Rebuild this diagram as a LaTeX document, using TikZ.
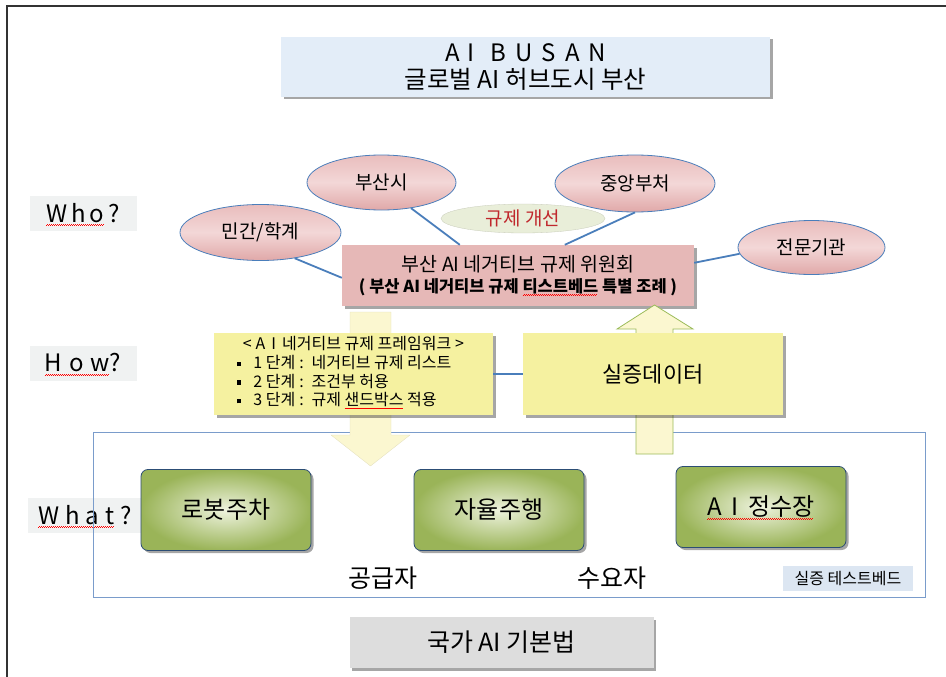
\documentclass[tikz,border=0pt]{standalone}
\usepackage{fontspec}
\setmainfont{Noto Sans CJK KR}
\usetikzlibrary{shapes.geometric,shadows,calc}
\definecolor{titleBlue}{HTML}{E3EDF8}
\definecolor{labelGray}{HTML}{F0F2F2}
\definecolor{pinkTop}{HTML}{E9BDBD}
\definecolor{pinkMid}{HTML}{F3D7D7}
\definecolor{pinkBot}{HTML}{E0A8A8}
\definecolor{comPink}{HTML}{E6B8B7}
\definecolor{yel}{HTML}{F5F1A0}
\definecolor{arrowY}{HTML}{FBF7D0}
\definecolor{arrowEdge}{HTML}{9BBB59}
\definecolor{greenOuter}{HTML}{9AB458}
\definecolor{greenInner}{HTML}{EEF3DE}
\definecolor{greenBorder}{HTML}{2C4D75}
\definecolor{tbBlue}{HTML}{DCE6F2}
\definecolor{lawGray}{HTML}{DDDDDD}
\definecolor{lineBlue}{HTML}{4A7EBB}
\definecolor{frameBlue}{HTML}{7A9CCB}
\definecolor{improve}{HTML}{E9EED9}
\definecolor{redtxt}{HTML}{C0282D}
\definecolor{frameGray}{HTML}{333333}
\newsavebox\wavetmp
\newcommand\redwave[1]{\sbox\wavetmp{#1}\leavevmode\rlap{\raisebox{-3pt}[0pt][0pt]{\color{red}\leaders\hbox{\rule{1pt}{0.45pt}\rule[0.7pt]{1pt}{0.45pt}}\hskip\wd\wavetmp}}\usebox\wavetmp}
\newcommand\sqbul{\rule[2.5pt]{4.5pt}{4.5pt}}
\newcommand\gp[1]{\hspace{#1pt}}
\begin{document}
\begin{tikzpicture}[x=1pt,y=-1pt,
  shad/.style={drop shadow={shadow xshift=2.5pt,shadow yshift=-2.5pt,fill=black,opacity=0.35}},
  lbl/.style={fill=labelGray,minimum width=107pt,minimum height=35pt,inner sep=0pt,font=\fontsize{24}{28}\selectfont},
  oval/.style={ellipse,draw=lineBlue,line width=0.8pt,top color=pinkTop,bottom color=pinkBot,middle color=pinkMid,inner sep=0pt,font=\fontsize{19}{22}\selectfont},
  ybox/.style={fill=yel,shad,inner sep=0pt},
  gbox/.style={rounded corners=7pt,draw=greenBorder,line width=0.8pt,inner color=greenInner,outer color=greenOuter,shad,minimum width=170pt,minimum height=81pt,inner sep=0pt,font=\fontsize{24}{28}\selectfont},
  conn/.style={draw=lineBlue,line width=1.8pt},
  big/.style={font=\fontsize{25}{28}\selectfont}
]
\useasboundingbox (0,0) rectangle (946,677);
% outer frame
\draw[frameGray,line width=2pt] (7,677) -- (7,6) -- (946,6);

% title
\node[fill=titleBlue,shad,minimum width=489pt,minimum height=60pt,inner sep=0pt,align=center] (title) at (525.5,67)
  {{\fontsize{24}{26}\selectfont A\gp{8}I\gp{16}B\gp{9}U\gp{9}S\gp{9}A\gp{9}N}\\[5pt]
   {\fontsize{24.5}{26}\selectfont 글로벌 AI 허브도시 부산}};

% side labels
\node[lbl] (who) at (83,213) {\redwave{W\gp{4}h\gp{4}o}\gp{4}?};
\node[lbl] (how) at (83,363) {\redwave{H\gp{7}o\gp{7}w}?};
\node[lbl,minimum width=115pt] (what) at (85,515) {\redwave{W\gp{6}h\gp{6}a\gp{6}t}\gp{6}?};

% testbed frame
\node[draw=frameBlue,line width=1pt,minimum width=832pt,minimum height=165pt,inner sep=0pt] (tb) at (509,514.5) {};

% ellipses
\node[oval,minimum width=149pt,minimum height=55pt] (bs) at (381.5,182.5) {부산시};
\node[oval,minimum width=160pt,minimum height=57pt] (jc) at (635,183.5) {중앙부처};
\node[oval,minimum width=161pt,minimum height=56pt] (mk) at (260.5,232.5) {민간/학계};
\node[oval,minimum width=147pt,minimum height=54pt] (jm) at (811.5,247.5) {전문기관};
\node[ellipse,fill=improve,draw=improve!85!black,line width=0.3pt,minimum width=164pt,minimum height=29pt,inner sep=0pt,text=redtxt,font=\fontsize{19}{22}\selectfont] (gj) at (523,218.5) {규제 개선};

% committee
\node[fill=comPink,shad,minimum width=352pt,minimum height=61pt,inner sep=0pt,align=center] (com) at (518,275.5)
  {{\fontsize{19.5}{22}\selectfont 부산 AI 네거티브 규제 위원회}\\[5pt]
   {\fontsize{16.5}{18}\selectfont\bfseries ( 부산 AI 네거티브 규제 \redwave{티스트베드} 특별 조례 )}};

% connectors ellipse -> committee
\draw[conn] (bs.-41) -- ($(com.north west)+(118,0)$);
\draw[conn] (jc.south) -- ($(com.north west)+(223,0)$);
\draw[conn] (mk.-37) -- ($(com.north west)+(0,33)$);
\draw[conn] (jm.185) -- ($(com.north east)+(0,18)$);

% block arrows
\draw[fill=arrowY,draw=arrowY!90!black,line width=0.3pt] (350,312) -- (391,312) -- (391,435) -- (410,435) -- (370.5,466) -- (331,435) -- (350,435) -- cycle;
\draw[fill=arrowY,draw=arrowEdge,line width=0.8pt] (636,454) -- (673,454) -- (673,329) -- (693,329) -- (654.5,305) -- (617,329) -- (636,329) -- cycle;

% yellow boxes
\node[ybox,minimum width=279pt,minimum height=82pt] (fw) at (353.5,374)
  {\fontsize{16}{18}\selectfont\begin{tabular}{@{}l@{\hspace{12pt}}l@{}}
   \multicolumn{2}{c}{<\gp{4}A\gp{6}I\gp{6}네거티브 규제 프레임워크\gp{4}>}\\
   \sqbul & 1 단계\gp{4}:\gp{8}네거티브 규제 리스트\\
   \sqbul & 2 단계\gp{4}:\gp{8}조건부 허용\\
   \sqbul & 3 단계\gp{4}:\gp{8}규제 \redwave{샌드박스} 적용
   \end{tabular}};
\node[ybox,minimum width=260pt,minimum height=82pt,font=\fontsize{22}{26}\selectfont] (sd) at (653,374) {실증데이터};
\draw[conn,line width=1.5pt] (fw.east) -- (sd.west);

% green boxes
\node[gbox] (rp) at (226,510) {로봇주차};
\node[gbox] (ad) at (499,510) {자율주행};
\node[gbox] (wp) at (761,507) {\redwave{A\gp{10}I\gp{10}정수장}};

\node[big] (sup) at (383,578) {공급자};
\node[big] (dem) at (612,578) {수요자};
\node[fill=tbBlue,minimum width=130pt,minimum height=25pt,inner sep=0pt,font=\fontsize{16}{18}\selectfont] (tbl) at (848,578.5) {실증 테스트베드};

% law
\node[fill=lawGray,shad,minimum width=304pt,minimum height=51pt,inner sep=0pt,font=\fontsize{25}{28}\selectfont] (law) at (501.5,642.5) {국가 AI 기본법};
\end{tikzpicture}
\end{document}
